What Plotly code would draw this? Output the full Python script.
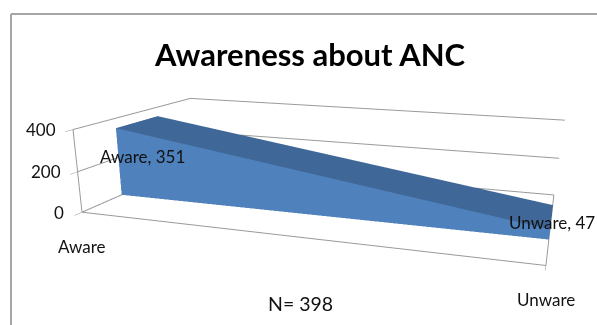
import plotly.graph_objects as go

# Survey result
categories = ["Aware", "Unware"]
counts = [351, 47]
value_ticks = [0, 200, 400]
chart_title = "Awareness about ANC"
sample_note = "N= 398"

PAGE_W, PAGE_H = 597, 610
CAT_POS = [0, 1]
RIBBON_FRONT, RIBBON_BACK = 0.30, 0.66

FRONT_BLUE = "#4f81bd"
TOP_BLUE = "#3f6797"
FRAME_GREY = "#a6a6a6"
AXIS_GREY = "#9a9a9a"
TEXT = "#111111"
FONT = "Lato"


def flat_mesh(xs, ys, zs, colour):
    """Flat-coloured quad, two triangles, with no shading."""
    return go.Mesh3d(
        x=xs, y=ys, z=zs, i=[0, 0], j=[1, 2], k=[2, 3],
        color=colour, flatshading=True, hoverinfo="skip",
        lighting=dict(ambient=1, diffuse=0, specular=0, roughness=1, fresnel=0),
    )


x0, x1 = CAT_POS
v0, v1 = counts
front_face = flat_mesh([x0, x1, x1, x0], [RIBBON_FRONT] * 4, [0, 0, v1, v0], FRONT_BLUE)
top_face = flat_mesh(
    [x0, x1, x1, x0],
    [RIBBON_FRONT, RIBBON_FRONT, RIBBON_BACK, RIBBON_BACK],
    [v0, v1, v1, v0],
    TOP_BLUE,
)

# Wall gridlines at each value tick, plus the floor outline and the value axis
frame_x, frame_y, frame_z = [], [], []
for v in value_ticks:
    frame_x += [0, 0, 1, None]
    frame_y += [0, 1, 1, None]
    frame_z += [v, v, v, None]
frame_x += [1, 1, 0, 0, None, 0, 0]
frame_y += [1, 0, 0, 0, None, 0, 0]
frame_z += [0, 0, 0, 0, None, 0, value_ticks[-1]]
frame = go.Scatter3d(x=frame_x, y=frame_y, z=frame_z, mode="lines", hoverinfo="skip",
                     line=dict(color=AXIS_GREY, width=2))

fig = go.Figure([frame, front_face, top_face])


def label(x, y, z, text, dx=0, dy=0, size=17):
    return dict(x=x, y=y, z=z, text=text, showarrow=False, xshift=dx, yshift=dy,
                font=dict(family=FONT, size=size, color=TEXT))


# Data labels, then the value and category labels set just outside the box
scene_labels = [
    label(x0, RIBBON_FRONT, v0 * 0.62, f"{categories[0]}, {v0}", dx=24, dy=-2),
    label(x1, RIBBON_FRONT, v1, f"{categories[1]}, {v1}", dx=2, dy=7),
]
scene_labels += [label(0, 0, v, str(v), dx=-32 if v else -23, dy=0) for v in value_ticks]
scene_labels += [label(p, 0, 0, c, dy=-34, size=17) for p, c in zip(CAT_POS, categories)]

axis_common = dict(
    title="", showline=False, zeroline=False, showgrid=False,
    showbackground=False, showspikes=False, showticklabels=False,
)

fig.update_layout(
    width=PAGE_W, height=PAGE_H, autosize=False,
    margin=dict(l=0, r=0, t=0, b=0),
    paper_bgcolor="white", showlegend=False,
    scene=dict(
        domain=dict(x=[0, 1], y=[0, 1]),
        aspectmode="manual",
        aspectratio=dict(x=1, y=0.5533, z=0.1836),
        camera=dict(
            eye=dict(x=0.485, y=-1.6373, z=0.3671),
            center=dict(x=0.186, y=-0.7665, z=-0.0229),
            up=dict(x=-0.1361, y=0.3656, z=0.9208),
            projection=dict(type="perspective"),
        ),
        xaxis=dict(range=[0, 1], tickvals=CAT_POS, ticks="outside",
                   ticklen=6, tickcolor=AXIS_GREY, **axis_common),
        yaxis=dict(range=[0, 1], tickvals=[], **axis_common),
        zaxis=dict(range=[0, 400], tickvals=value_ticks, ticks="outside",
                   ticklen=6, tickcolor=AXIS_GREY, **axis_common),
        annotations=scene_labels,
    ),
    annotations=[
        dict(text=f"<b>{chart_title}</b>", xref="paper", yref="paper",
             x=310 / PAGE_W, y=1 - 54 / PAGE_H, xanchor="center", yanchor="middle",
             showarrow=False, font=dict(family=FONT, size=31, color="black")),
        dict(text=sample_note, xref="paper", yref="paper",
             x=300 / PAGE_W, y=1 - 303 / PAGE_H, xanchor="center", yanchor="middle",
             showarrow=False, font=dict(family=FONT, size=19.5, color=TEXT)),
    ],
    shapes=[
        dict(type="line", xref="paper", yref="paper", x0=11 / PAGE_W, x1=11 / PAGE_W,
             y0=1 - 14 / PAGE_H, y1=0, line=dict(color=FRAME_GREY, width=2)),
        dict(type="line", xref="paper", yref="paper", x0=11 / PAGE_W, x1=1,
             y0=1 - 14 / PAGE_H, y1=1 - 14 / PAGE_H, line=dict(color=FRAME_GREY, width=2)),
    ],
)

fig.write_html("out.html")
